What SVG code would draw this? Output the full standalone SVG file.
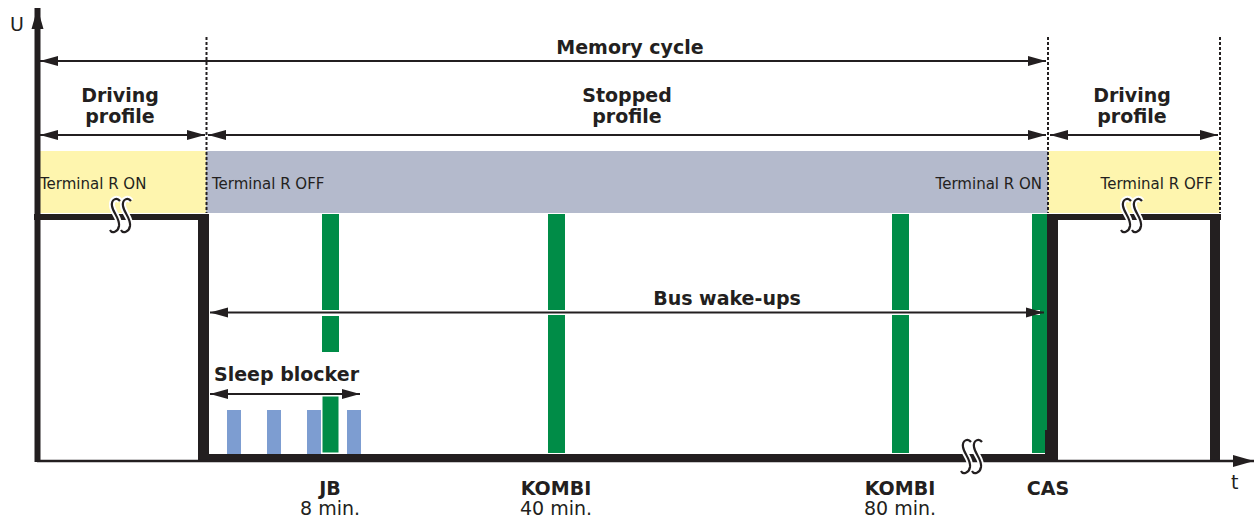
<svg xmlns="http://www.w3.org/2000/svg" width="1254" height="519" viewBox="0 0 1254 519">
<style>
.b{font-family:"DejaVu Sans","Liberation Sans",sans-serif;font-weight:bold;font-size:19px;fill:#231f20}
.r{font-family:"DejaVu Sans","Liberation Sans",sans-serif;font-size:15px;fill:#231f20}
.r19{font-family:"DejaVu Sans","Liberation Sans",sans-serif;font-size:19px;fill:#231f20}
.dim{stroke:#231f20;stroke-width:2;fill:none}
.halo{stroke:#fff;stroke-width:5;fill:none}
.dash{stroke:#231f20;stroke-width:2;stroke-dasharray:3 2;fill:none}
.sig{fill:#231f20}
.grn{fill:#008c47}
.blu{fill:#7d9dd1}
.sq{fill:none;stroke:#231f20;stroke-width:2.2}
.sqh{fill:none;stroke:#fff;stroke-width:6}
</style>
<defs>
<marker id="ah" markerUnits="userSpaceOnUse" markerWidth="18" markerHeight="12" refX="18" refY="6" orient="auto-start-reverse">
<path d="M0,1 L18,6 L0,11 z" fill="#231f20"/>
</marker>
<marker id="ax" markerUnits="userSpaceOnUse" markerWidth="22" markerHeight="14" refX="21" refY="7" orient="auto">
<path d="M0,1 L21,7 L0,13 z" fill="#231f20"/>
</marker>
<path id="s" d="M10,2 C7,-2 1,0 2,7 C3,14 10,19 9,27 C8,33 2,35 0,31"/>
</defs>
<rect width="1254" height="519" fill="#fff"/>

<g id="bands">
<rect x="37" y="151" width="169" height="62" fill="#fef5ae"/>
<rect x="206" y="151" width="842" height="62" fill="#b4bacc"/>
<rect x="1048" y="151" width="172" height="62" fill="#fef5ae"/>
<text class="r" x="40" y="189">Terminal R ON</text>
<text class="r" x="212" y="189">Terminal R OFF</text>
<text class="r" x="1042" y="189" text-anchor="end">Terminal R ON</text>
<text class="r" x="1213" y="189" text-anchor="end">Terminal R OFF</text>
</g>

<g id="dividers">
<line class="dash" x1="206.5" y1="37" x2="206.5" y2="213"/>
<line class="dash" x1="1048" y1="37" x2="1048" y2="213"/>
<line class="dash" x1="1220" y1="37" x2="1220" y2="213"/>
</g>

<g id="wakeups">
<rect class="grn" x="322" y="214" width="17" height="96"/>
<rect class="grn" x="322" y="316" width="17" height="36"/>
<rect class="grn" x="548" y="214" width="17" height="239"/>
<rect class="grn" x="892" y="214" width="17" height="239"/>
<rect class="grn" x="1032" y="214" width="17" height="239"/>
</g>

<g id="sleep-blocker-pulses">
<rect class="blu" x="227" y="410" width="14" height="50"/>
<rect class="blu" x="267" y="410" width="14" height="50"/>
<rect class="blu" x="307" y="410" width="14" height="50"/>
<rect class="blu" x="347" y="410" width="14" height="50"/>
<rect class="grn" x="322" y="396" width="17" height="57" stroke="#fff" stroke-width="1"/>
</g>

<g id="signal">
<rect class="sig" x="34" y="214" width="174" height="6"/>
<rect class="sig" x="198" y="214" width="11" height="247"/>
<rect class="sig" x="198" y="454" width="860" height="6"/>
<rect class="sig" x="1045" y="430" width="4" height="25"/>
<rect class="sig" x="1047" y="214" width="11" height="247"/>
<rect class="sig" x="1047" y="214" width="174" height="6"/>
<rect class="sig" x="1210" y="214" width="10" height="247"/>
</g>

<g id="axes">
<line x1="37" y1="461" x2="1254" y2="461" stroke="#231f20" stroke-width="2.5" marker-end="url(#ax)"/>
<line x1="37.5" y1="462" x2="37.5" y2="8" stroke="#231f20" stroke-width="6" marker-end="url(#ax)"/>
<text class="r19" x="10" y="31">U</text>
<text class="r19" x="1231" y="489">t</text>
</g>

<g id="breaks">
<g transform="translate(110,199)"><use href="#s" class="sqh"/><use href="#s" x="11" class="sqh"/><use href="#s" class="sq"/><use href="#s" x="11" class="sq"/></g>
<g transform="translate(1121,199)"><use href="#s" class="sqh"/><use href="#s" x="11" class="sqh"/><use href="#s" class="sq"/><use href="#s" x="11" class="sq"/></g>
<g transform="translate(961,440)"><use href="#s" class="sqh"/><use href="#s" x="11" class="sqh"/><use href="#s" class="sq"/><use href="#s" x="11" class="sq"/></g>
</g>

<g id="connectors">
<line class="dim" x1="40" y1="61" x2="1046" y2="61" marker-start="url(#ah)" marker-end="url(#ah)"/>
<line class="dim" x1="40" y1="135" x2="205" y2="135" marker-start="url(#ah)" marker-end="url(#ah)"/>
<line class="dim" x1="208" y1="135" x2="1046" y2="135" marker-start="url(#ah)" marker-end="url(#ah)"/>
<line class="dim" x1="1050" y1="135" x2="1218" y2="135" marker-start="url(#ah)" marker-end="url(#ah)"/>
<line class="halo" x1="212" y1="312.5" x2="1040" y2="312.5"/>
<line class="dim" x1="210" y1="312.5" x2="1044" y2="312.5" marker-start="url(#ah)" marker-end="url(#ah)"/>
<line class="dim" x1="210" y1="394" x2="360" y2="394" marker-start="url(#ah)" marker-end="url(#ah)"/>
</g>

<g id="labels">
<text class="b" x="630" y="54" text-anchor="middle">Memory cycle</text>
<text class="b" x="120" y="102" text-anchor="middle">Driving</text>
<text class="b" x="120" y="123" text-anchor="middle">profile</text>
<text class="b" x="627" y="102" text-anchor="middle">Stopped</text>
<text class="b" x="627" y="123" text-anchor="middle">profile</text>
<text class="b" x="1132" y="102" text-anchor="middle">Driving</text>
<text class="b" x="1132" y="123" text-anchor="middle">profile</text>
<text class="b" x="727" y="305" text-anchor="middle">Bus wake-ups</text>
<text class="b" x="214" y="381">Sleep blocker</text>
<text class="b" x="330" y="495" text-anchor="middle">JB</text>
<text class="r19" x="330" y="515" text-anchor="middle">8 min.</text>
<text class="b" x="556" y="495" text-anchor="middle">KOMBI</text>
<text class="r19" x="556" y="515" text-anchor="middle">40 min.</text>
<text class="b" x="900" y="495" text-anchor="middle">KOMBI</text>
<text class="r19" x="900" y="515" text-anchor="middle">80 min.</text>
<text class="b" x="1048" y="495" text-anchor="middle">CAS</text>
</g>
</svg>
